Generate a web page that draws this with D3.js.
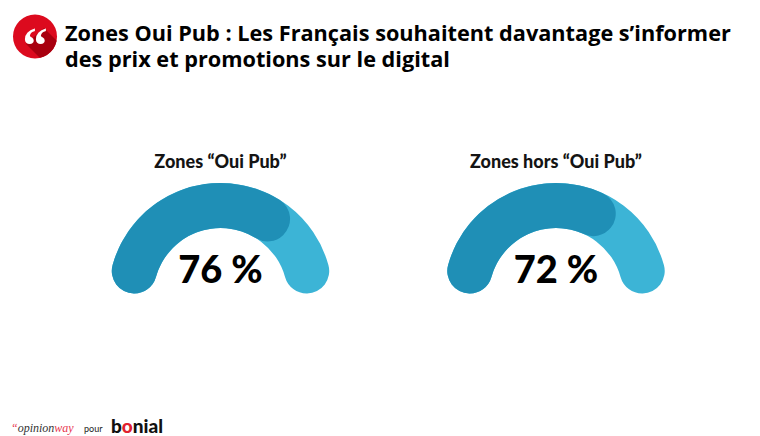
<!DOCTYPE html>
<html><head><meta charset="utf-8">
<script src="https://cdn.jsdelivr.net/npm/d3@7"></script>
<style>html,body{margin:0;padding:0;background:#fff}svg{display:block}</style>
</head><body><svg id="c" width="760" height="436"></svg>
<script>
const titleLines = ["Zones Oui Pub : Les Français souhaitent davantage s’informer", "des prix et promotions sur le digital"];
const categories = ["Zones “Oui Pub”", "Zones hors “Oui Pub”"];
const values = [76, 72];
const valueLabels = ["76 %", "72 %"];
const centersX = [220.5, 556];
const svg = d3.select("#c");
const deg = Math.PI / 180;
const angle = d3.scaleLinear().domain([0, 100]).range([-89 * deg, 89 * deg]);
const arc = d3.arc().innerRadius(67).outerRadius(112).cornerRadius(22.5);

const defs = svg.append("defs");
defs.append("clipPath").attr("id", "ic").append("circle").attr("cx", 35).attr("cy", 36.5).attr("r", 22);
const icon = svg.append("g");
icon.append("circle").attr("cx", 35).attr("cy", 36.5).attr("r", 22).attr("fill", "#dc0a1e");
icon.append("path").attr("clip-path", "url(#ic)").attr("fill", "#a8000f").attr("d", "M44 28 L62 46 L46 64 L26 44 Z");
icon.append("text").attr("x", 35).attr("y", 62).attr("text-anchor", "middle")
  .attr("font-family", "Liberation Serif").attr("font-weight", 700).attr("font-size", 50).attr("fill", "#fff").text("“");

svg.append("g").selectAll("text").data(titleLines).join("text")
  .attr("x", 65).attr("y", (d, i) => 41 + i * 26)
  .attr("font-family", "Open Sans").attr("font-weight", 700).attr("font-size", 21.7).attr("fill", "#000").text(d => d);

const g = svg.append("g").selectAll("g").data(values).join("g")
  .attr("transform", (d, i) => `translate(${centersX[i]},295)`);
g.append("path").attr("fill", "#3cb4d6").attr("d", () => arc({startAngle: angle(0), endAngle: angle(100)}));
g.append("path").attr("fill", "#1f8fb6").attr("d", d => arc({startAngle: angle(0), endAngle: angle(d)}));
g.append("text").attr("y", -127).attr("text-anchor", "middle")
  .attr("font-family", "Lato").attr("font-weight", 900).attr("font-size", 18).attr("fill", "#141414")
  .text((d, i) => categories[i]);
g.append("text").attr("y", -12).attr("text-anchor", "middle")
  .attr("font-family", "Lato").attr("font-weight", 900).attr("font-size", 38).attr("fill", "#000")
  .text((d, i) => valueLabels[i]);

const o = svg.append("text").attr("x", 11).attr("y", 432).attr("font-family", "Liberation Serif").attr("font-style", "italic").attr("font-size", 12);
o.append("tspan").attr("fill", "#e8384f").text("“");
o.append("tspan").attr("fill", "#333").text("opinion");
o.append("tspan").attr("fill", "#e8384f").text("way");
svg.append("text").attr("x", 84).attr("y", 432).attr("font-family", "Lato").attr("font-size", 9).attr("fill", "#222").text("pour");
const b = svg.append("text").attr("x", 111).attr("y", 433).attr("font-family", "Lato").attr("font-weight", 900).attr("font-size", 19).attr("fill", "#111");
b.append("tspan").text("b");
b.append("tspan").attr("fill", "#e0202e").text("o");
b.append("tspan").text("nial");
</script></body></html>
